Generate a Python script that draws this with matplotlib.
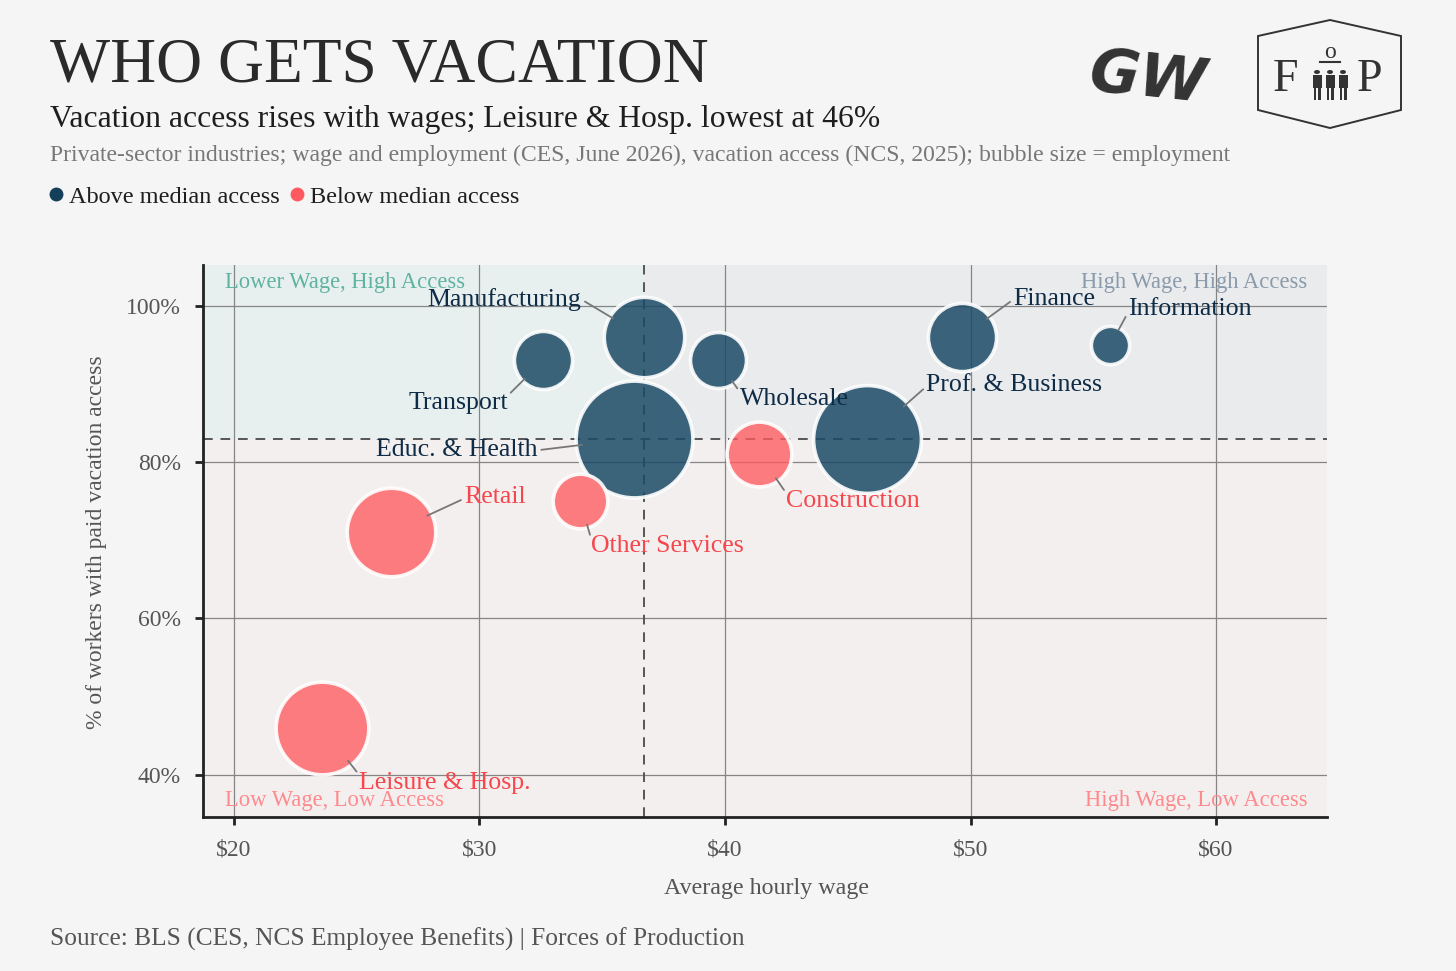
import numpy as np
import matplotlib
matplotlib.use("Agg")
import matplotlib.pyplot as plt
from matplotlib.patches import Rectangle, Polygon, Circle
from matplotlib.lines import Line2D

# ---------------- data ----------------
industries = ["Educ. & Health", "Prof. & Business", "Leisure & Hosp.", "Retail",
              "Manufacturing", "Finance", "Construction", "Transport",
              "Wholesale", "Other Services", "Information"]
wage = [36.3, 45.8, 23.6, 26.4, 36.7, 49.65, 41.4, 32.6, 39.7, 34.1, 55.7]
access = [83, 83, 46, 71, 96, 96, 81, 93, 93, 75, 95]
employment_m = [27.0, 23.0, 17.0, 15.5, 12.8, 9.2, 8.3, 6.7, 6.2, 5.9, 2.9]
# label offsets (data units) relative to bubble center, alignment, connector anchor
label_dx = [-3.95, 2.4, 1.5, 3.0, -2.55, 2.1, 1.1, -1.45, 0.9, 0.45, 0.7]
label_dy = [-1.5, 6.8, -7.0, 4.5, 4.8, 4.8, -6.0, -5.5, -5.0, -5.8, 4.6]
label_ha = ["right", "left", "left", "left", "right", "left", "left", "right",
            "left", "left", "left"]
label_rel = [(1.0, 0.5), (0.0, 0.45), (0.0, 0.85), (0.0, 0.45), (1.0, 0.5),
             (0.0, 0.5), (0.0, 0.85), (1.0, 0.85), (0.0, 0.85), (0.0, 0.85),
             (0.0, 0.3)]

xticks = [20, 30, 40, 50, 60]
xticklabels = ["$20", "$30", "$40", "$50", "$60"]
yticks = [40, 60, 80, 100]
yticklabels = ["40%", "60%", "80%", "100%"]

title = "WHO GETS VACATION"
subtitle = "Vacation access rises with wages; Leisure & Hosp. lowest at 46%"
subtitle2 = ("Private-sector industries; wage and employment (CES, June 2026), "
             "vacation access (NCS, 2025); bubble size = employment")
source = "Source: BLS (CES, NCS Employee Benefits) | Forces of Production"

# ---------------- style ----------------
BG = "#f5f5f5"
NAVY = "#1b4a66"
NAVY_TXT = "#0f2c47"
RED = "#ff5a5f"
RED_TXT = "#f5474d"
SERIF = ["Liberation Serif", "DejaVu Serif"]
plt.rcParams["font.family"] = SERIF

W, H = 1456, 971
fig = plt.figure(figsize=(W / 100, H / 100), dpi=100, facecolor=BG)
ax = fig.add_axes([203 / W, 1 - 817 / H, (1327 - 203) / W, (817 - 265) / H])
ax.set_facecolor(BG)

xmin, xmax = 18.74, 64.52
ymin, ymax = 34.6, 105.2
ax.set_xlim(xmin, xmax)
ax.set_ylim(ymin, ymax)

wage_a = np.array(wage)
acc_a = np.array(access)
emp_a = np.array(employment_m)
med_x = np.median(wage_a)
med_y = np.median(acc_a)

# quadrant shading
ax.add_patch(Rectangle((xmin, med_y), med_x - xmin, ymax - med_y,
                       facecolor="#e8f0ef", edgecolor="none", zorder=0))
ax.add_patch(Rectangle((med_x, med_y), xmax - med_x, ymax - med_y,
                       facecolor="#eaebed", edgecolor="none", zorder=0))
ax.add_patch(Rectangle((xmin, ymin), xmax - xmin, med_y - ymin,
                       facecolor="#f4efef", edgecolor="none", zorder=0))

# grid
ax.set_xticks(xticks)
ax.set_xticklabels(xticklabels)
ax.set_yticks(yticks)
ax.set_yticklabels(yticklabels)
ax.grid(True, color="#858585", linewidth=0.9, zorder=1)
ax.set_axisbelow(True)

# median lines
ax.axvline(med_x, color="#555555", linewidth=1.4, dashes=(5, 4), zorder=2)
ax.axhline(med_y, color="#555555", linewidth=1.4, dashes=(5, 4), zorder=2)

# bubbles
size_k = 262.0
sizes = emp_a * size_k
above = acc_a >= med_y
order = np.argsort(-emp_a)
for i in order:
    base = NAVY if above[i] else RED
    a = 0.85 if above[i] else 0.78
    rgba = matplotlib.colors.to_rgba(base, a)
    ax.scatter(wage_a[i], acc_a[i], s=sizes[i], facecolor=[rgba],
               edgecolor=[(1, 1, 1, 0.9)], linewidth=2.6, zorder=3)

# labels with connectors
for i, name in enumerate(industries):
    col = NAVY_TXT if above[i] else RED_TXT
    r_pt = np.sqrt(sizes[i]) / 2
    ax.annotate(name, xy=(wage_a[i], acc_a[i]),
                xytext=(wage_a[i] + label_dx[i], acc_a[i] + label_dy[i]),
                ha=label_ha[i], va="center", fontsize=18.6, color=col,
                arrowprops=dict(arrowstyle="-", color="#777777", lw=1.3,
                                relpos=label_rel[i], patchA=None,
                                shrinkA=3, shrinkB=r_pt * 0.9),
                zorder=5)

# quadrant labels
ax.text(20 - 0.35, 103.0, "Lower Wage, High Access", color="#5fb3a0",
        fontsize=16.3, ha="left", va="center", zorder=4)
ax.text(xmax - 0.8, 103.0, "High Wage, High Access", color="#8a9bab",
        fontsize=16.3, ha="right", va="center", zorder=4)
ax.text(20 - 0.35, 36.7, "Low Wage, Low Access", color="#ff8a8e",
        fontsize=16.3, ha="left", va="center", zorder=4)
ax.text(xmax - 0.8, 36.7, "High Wage, Low Access", color="#ff8a8e",
        fontsize=16.3, ha="right", va="center", zorder=4)

# spines and ticks
for s in ["top", "right"]:
    ax.spines[s].set_visible(False)
for s in ["left", "bottom"]:
    ax.spines[s].set_color("#222222")
    ax.spines[s].set_linewidth(2)
ax.tick_params(axis="both", direction="out", length=6, width=2,
               color="#222222", labelcolor="#555555", labelsize=17, pad=10)

# axis labels
fig.text(766 / W, 1 - 888 / H, "Average hourly wage", ha="center", va="center",
         fontsize=17.3, color="#555555")
fig.text(97 / W, 1 - 542 / H, "% of workers with paid vacation access",
         ha="center", va="center", rotation=90, fontsize=17, color="#555555")

# titles
fig.text(50 / W, 1 - 82 / H, title, ha="left", va="baseline", fontsize=45.8,
         color="#2a2a2a")
fig.text(50 / W, 1 - 127 / H, subtitle, ha="left", va="baseline", fontsize=22.8,
         color="#1e1e1e")
fig.text(50 / W, 1 - 161 / H, subtitle2, ha="left", va="baseline", fontsize=17.1,
         color="#777777")

# legend
handles = [Line2D([], [], marker="o", linestyle="none", markersize=10,
                  markerfacecolor="#143f5a", markeredgecolor="none"),
           Line2D([], [], marker="o", linestyle="none", markersize=10,
                  markerfacecolor=RED, markeredgecolor="none")]
fig.legend(handles, ["Above median access", "Below median access"],
           loc="center left", bbox_to_anchor=(46 / W, 1 - 197 / H),
           bbox_transform=fig.transFigure, ncol=2, frameon=False,
           fontsize=17.5, handletextpad=0.15, columnspacing=0.3,
           handlelength=0.8, borderaxespad=0, borderpad=0,
           labelcolor="#1e1e1e")

# source
fig.text(50 / W, 1 - 946 / H, source, ha="left", va="baseline", fontsize=18.3,
         color="#555555")

# logos (decorative)
fig.text(1148 / W, 1 - 80 / H, "GW", ha="center", va="center", fontsize=44,
         fontweight="bold", family=["DejaVu Sans"], color="#333333",
         rotation=-6, style="italic")
hexpts = [(1258, 36), (1330, 20), (1401, 36), (1401, 110), (1330, 128), (1258, 110)]
fig.add_artist(Polygon([(x / W, 1 - y / H) for x, y in hexpts], closed=True,
                       fill=False, edgecolor="#333333", linewidth=1.4,
                       transform=fig.transFigure))
fig.text(1285 / W, 1 - 80 / H, "F", ha="center", va="center", fontsize=33,
         color="#333333")
fig.text(1369 / W, 1 - 80 / H, "P", ha="center", va="center", fontsize=33,
         color="#333333")
fig.text(1330 / W, 1 - 53 / H, "o", ha="center", va="center", fontsize=17,
         color="#333333")
fig.add_artist(Line2D([1320 / W, 1340 / W], [1 - 62 / H, 1 - 62 / H],
                      color="#333333", linewidth=1.5, transform=fig.transFigure))
for cx in (1317, 1330, 1343):
    fig.add_artist(Circle((cx / W, 1 - 72 / H), 3.0 / W, facecolor="#333333",
                          edgecolor="none", transform=fig.transFigure))
    fig.add_artist(Rectangle(((cx - 4.5) / W, 1 - 88 / H), 9 / W, 13 / H,
                             facecolor="#333333", edgecolor="none",
                             transform=fig.transFigure))
    for lx in (cx - 3.5, cx + 1):
        fig.add_artist(Rectangle((lx / W, 1 - 100 / H), 2.5 / W, 13 / H,
                                 facecolor="#333333", edgecolor="none",
                                 transform=fig.transFigure))

fig.savefig("out.png", dpi=100, facecolor=BG)
